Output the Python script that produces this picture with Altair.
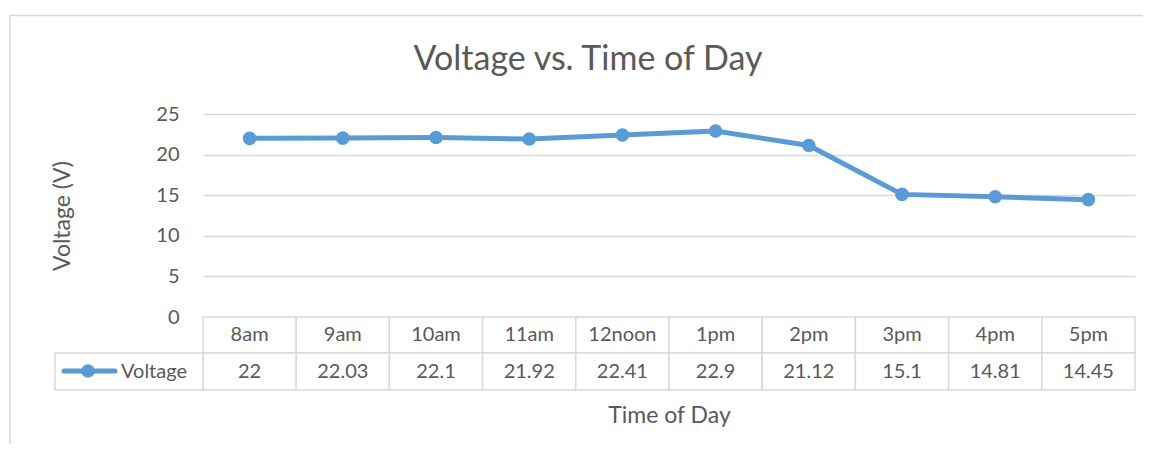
import altair as alt
import pandas as pd

# ---- data ----
times = ["8am", "9am", "10am", "11am", "12noon", "1pm", "2pm", "3pm", "4pm", "5pm"]
voltage = [22, 22.03, 22.1, 21.92, 22.41, 22.9, 21.12, 15.1, 14.81, 14.45]
voltage_labels = ["22", "22.03", "22.1", "21.92", "22.41", "22.9", "21.12", "15.1", "14.81", "14.45"]
series_name = ["Voltage"]
chart_title = ["Voltage vs. Time of Day"]
x_title = "Time of Day"
y_title = "Voltage (V)"
y_ticks = [0, 5, 10, 15, 20, 25]

df = pd.DataFrame({"time": times, "voltage": voltage, "label": voltage_labels})
one = alt.Data(values=[{"name": series_name[0], "title": chart_title[0]}])

# ---- style ----
W, H = 932, 203
FONT = "Lato"
TXT = "#595959"
BLUE = "#5B9BD5"
GRID = "#D9D9D9"

xscale = alt.Scale(type="band", domain=times, paddingInner=0, paddingOuter=0)

x_axis = alt.Axis(labels=False, ticks=False, domain=False, grid=False,
                  title=x_title, titleFont=FONT, titleFontSize=23, titleFontWeight="normal",
                  titleColor=TXT, titleBaseline="alphabetic", titleX=W / 2, titleY=105)

y_axis = alt.Axis(values=y_ticks, grid=True, gridColor=GRID, gridWidth=1.3,
                  domain=False, ticks=False, tickSize=0, labelPadding=24,
                  labelFont=FONT, labelFontSize=20, labelColor=TXT,
                  title=y_title, titleFont=FONT, titleFontSize=23, titleFontWeight="normal",
                  titleColor=TXT, titleBaseline="alphabetic", titleX=-134, titleY=H / 2)

base = alt.Chart(df)

# outer chart border
border = alt.Chart(one).mark_rect(fill=None, stroke=GRID, strokeWidth=1.5).encode(
    x=alt.value(-193), x2=alt.value(990), y=alt.value(-98.5), y2=alt.value(400)
)

# chart title
title_txt = alt.Chart(one).mark_text(font=FONT, fontSize=34, color=TXT, align="center",
                                     baseline="alphabetic").encode(
    x=alt.value(385), y=alt.value(-44), text="title:N"
)

line = base.mark_line(color=BLUE, strokeWidth=5).encode(
    x=alt.X("time:N", scale=xscale, axis=x_axis, bandPosition=0.5),
    y=alt.Y("voltage:Q", scale=alt.Scale(domain=[0, 25], nice=False), axis=y_axis),
)
points = base.mark_circle(color=BLUE, opacity=1, size=185).encode(
    x=alt.X("time:N", scale=xscale, bandPosition=0.5),
    y=alt.Y("voltage:Q"),
)

# data table
cell_hdr = base.mark_rect(fill="white", stroke=GRID, strokeWidth=1.5).encode(
    x=alt.X("time:N", scale=xscale), y=alt.value(H), y2=alt.value(H + 36)
)
cell_val = base.mark_rect(fill="white", stroke=GRID, strokeWidth=1.5).encode(
    x=alt.X("time:N", scale=xscale), y=alt.value(H + 36), y2=alt.value(H + 73)
)
txt_hdr = base.mark_text(font=FONT, fontSize=20, color=TXT, baseline="middle").encode(
    x=alt.X("time:N", scale=xscale, bandPosition=0.5), y=alt.value(H + 18), text="time:N"
)
txt_val = base.mark_text(font=FONT, fontSize=20, color=TXT, baseline="middle").encode(
    x=alt.X("time:N", scale=xscale, bandPosition=0.5), y=alt.value(H + 55), text="label:N"
)

# legend key cell
leg_cell = alt.Chart(one).mark_rect(fill="white", stroke=GRID, strokeWidth=1.5).encode(
    x=alt.value(-148), x2=alt.value(0), y=alt.value(H + 36), y2=alt.value(H + 73)
)
leg_line = alt.Chart(one).mark_rule(color=BLUE, strokeWidth=5, strokeCap="round").encode(
    x=alt.value(-139), x2=alt.value(-88), y=alt.value(H + 54)
)
leg_pt = alt.Chart(one).mark_circle(color=BLUE, opacity=1, size=185).encode(
    x=alt.value(-115), y=alt.value(H + 54)
)
leg_txt = alt.Chart(one).mark_text(font=FONT, fontSize=20, color=TXT, align="left",
                                   baseline="middle").encode(
    x=alt.value(-82), y=alt.value(H + 55), text="name:N"
)

chart = alt.layer(
    border, title_txt, line, points, cell_hdr, cell_val, txt_hdr, txt_val,
    leg_cell, leg_line, leg_pt, leg_txt
).properties(
    width=W, height=H,
    autosize=alt.AutoSizeParams(type="none"),
    padding={"left": 195, "top": 106, "right": 8, "bottom": 127},
    background="white",
).configure_view(stroke=None)

chart.save("out.html", embed_options={"renderer": "svg", "actions": False})
